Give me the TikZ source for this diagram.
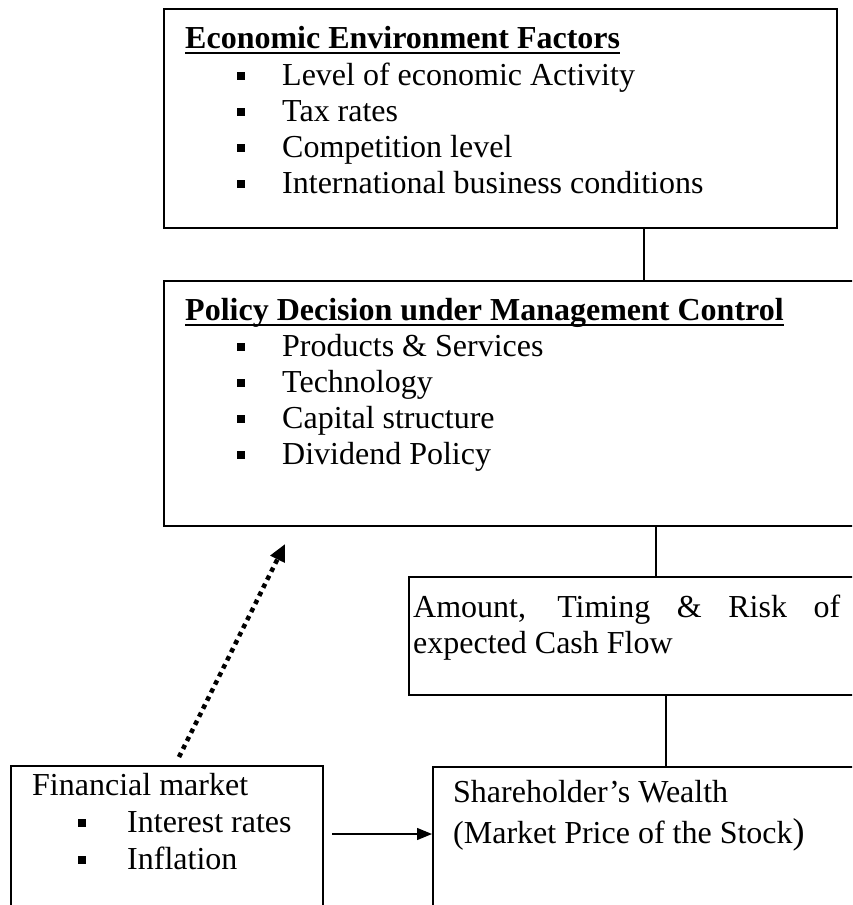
\documentclass[tikz,border=0pt]{standalone}
\usepackage{fontspec}
\setmainfont{Liberation Serif}
\usepackage{tikz}
\usetikzlibrary{arrows.meta}
\newcommand\mainsize{\fontsize{32pt}{36pt}\selectfont}
\tikzset{
    box/.style={draw, line width=1.6pt, inner sep=0pt, anchor=north west}, % frame of each box
    txt/.style={anchor=base west, inner sep=0pt, font=\mainsize}, % one line of text
    head/.style={txt, font=\mainsize\bfseries},
    sq/.style={fill, minimum size=8pt, inner sep=0pt}, % square bullet
    link/.style={line width=1.6pt}
}

\begin{document}
\begin{tikzpicture}[x=1pt, y=-1pt]
            \useasboundingbox (0,0) rectangle (852,905);
            \clip (0,0) rectangle (852,905);

            \node[box, minimum width=673pt, minimum height=219pt] (econ) at (163,8) {};
            \node[box, minimum width=720pt, minimum height=245pt] (policy) at (163,280) {};
            \node[box, minimum width=480pt, minimum height=118pt] (amount) at (408,576) {};
            \node[box, minimum width=460pt, minimum height=180pt] (wealth) at (432,766) {};
            \node[box, minimum width=312pt, minimum height=180pt] (market) at (10,765) {};

            \node[head] (econtitle) at (185,48) {Economic Environment Factors};
            \draw[line width=2.5pt] ([yshift=-5pt]econtitle.base west) -- ([yshift=-5pt]econtitle.base east);
            \foreach \t [count=\i] in {Level of economic Activity, Tax rates, Competition level, International business conditions}
                {\node[sq] (eb\i) at (241,{40+36*\i}) {}; \node[txt] (et\i) at (282,{49+36*\i}) {\t};}

            \node[head] (policytitle) at (185,320) {Policy Decision under Management Control};
            \draw[line width=2.5pt] ([yshift=-5pt]policytitle.base west) -- ([yshift=-5pt]policytitle.base east);
            \foreach \t [count=\i] in {Products \& Services, Technology, Capital structure, Dividend Policy}
                {\node[sq] (pb\i) at (241,{311+36*\i}) {}; \node[txt] (pt\i) at (282,{320+36*\i}) {\t};}

            \node[txt] (amt1) at (413,617) {\makebox[427pt][s]{Amount, Timing \& Risk of}};
            \node[txt] (amt2) at (413,653) {expected Cash Flow};

            \node[txt] (wl1) at (453,802) {Shareholder’s Wealth};
            \node[txt] (wl2) at (453,843) {(Market Price of the Stock{\fontsize{36pt}{36pt}\selectfont)}};

            \node[txt] (mk0) at (32,795) {Financial market};
            \foreach \t [count=\i] in {Interest rates, Inflation}
                {\node[sq] (mb\i) at (82,{786+37*\i}) {}; \node[txt] (mt\i) at (127,{795+37*\i}) {\t};}

            % connectors
            \coordinate (c0) at (644,0); \coordinate (c1) at (656,0); \coordinate (c2) at (666,0);
            \draw[link] (econ.south -| c0) -- (policy.north -| c0);
            \draw[link] (policy.south -| c1) -- (amount.north -| c1);
            \draw[link] (amount.south -| c2) -- (wealth.north -| c2);

            \coordinate (arrS) at (332,834);
            \draw[line width=1.3pt, -{Triangle[length=15pt, width=12pt]}] (arrS) -- (arrS -| wealth.west);

            \coordinate (dotS) at (179,757); \coordinate (dotE) at (285,544);
            \draw[line width=4.5pt, dash pattern=on 4.5pt off 4.5pt, -{Triangle[length=17pt, width=15pt]}] (dotS) -- (dotE);
        \end{tikzpicture}
\end{document}
